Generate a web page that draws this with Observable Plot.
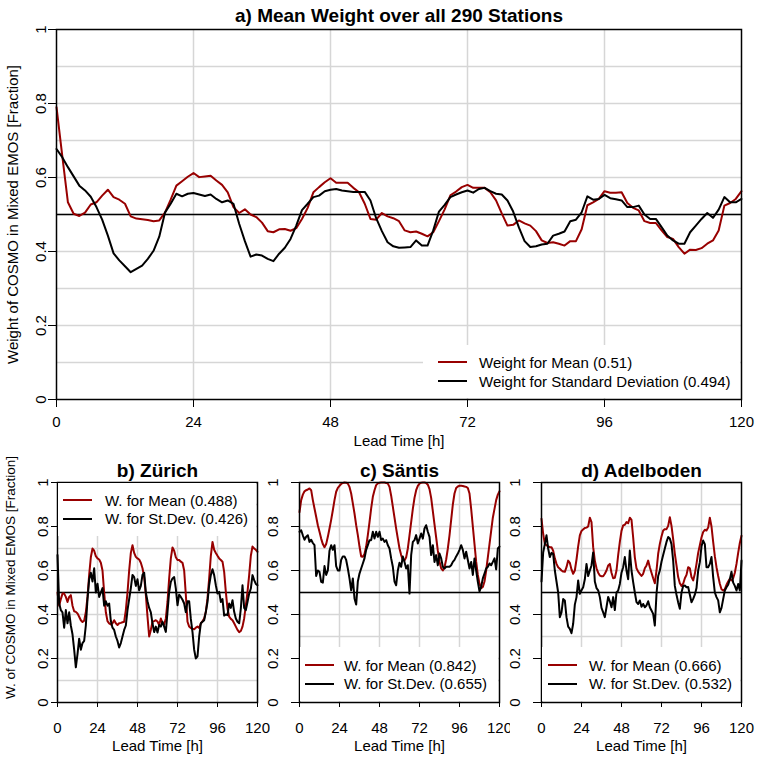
<!DOCTYPE html>
<html><head><meta charset="utf-8">
<script src="https://cdn.jsdelivr.net/npm/d3@7"></script>
<script src="https://cdn.jsdelivr.net/npm/@observablehq/plot@0.6"></script>
<style>
body{margin:0;background:#fff;}
#root{position:relative;width:758px;height:758px;overflow:hidden;font-family:"Liberation Sans",Arial,sans-serif;color:#000;}
.panel{position:absolute;}
.legend{position:absolute;background:#fff;}
.row{position:absolute;height:19px;display:flex;align-items:center;font-size:15px;white-space:nowrap;}
.sw{position:absolute;height:0;border-top:2px solid;}
</style></head><body><div id="root"></div>
<script>
const leadHours = Array.from({length:121},(_,i)=>i);
const xTicks = [0,24,48,72,96,120];
const yTicks = [0,0.2,0.4,0.6,0.8,1];
const yTickLabels = ["0","0.2","0.4","0.6","0.8","1"];
const gridY = [0.1,0.2,0.3,0.4,0.5,0.6,0.7,0.8,0.9];
const gridX = [24,48,72,96];
const xLabel = "Lead Time [h]";
const titles = ["a) Mean Weight over all 290 Stations","b) Zürich","c) Säntis","d) Adelboden"];
const yLabels = ["Weight of COSMO in Mixed EMOS [Fraction]","W. of COSMO in Mixed EMOS [Fraction]"];
const legendA = ["Weight for Mean (0.51)","Weight for Standard Deviation (0.494)"];
const legendB = ["W. for Mean (0.488)","W. for St.Dev. (0.426)"];
const legendC = ["W. for Mean (0.842)","W. for St.Dev. (0.655)"];
const legendD = ["W. for Mean (0.666)","W. for St.Dev. (0.532)"];

const allMean = [0.79,0.66,0.533,0.502,0.496,0.505,0.527,0.533,0.551,0.567,
 0.547,0.54,0.529,0.495,0.489,0.487,0.485,0.482,0.484,0.505,
 0.54,0.578,0.59,0.602,0.612,0.601,0.603,0.605,0.592,0.58,
 0.56,0.52,0.504,0.514,0.5,0.493,0.478,0.455,0.452,0.46,
 0.461,0.456,0.463,0.488,0.518,0.56,0.574,0.587,0.598,0.586,
 0.586,0.586,0.572,0.56,0.529,0.488,0.486,0.504,0.495,0.49,
 0.482,0.457,0.452,0.454,0.448,0.441,0.452,0.482,0.514,0.552,
 0.562,0.574,0.58,0.572,0.572,0.572,0.56,0.538,0.503,0.47,
 0.472,0.484,0.476,0.47,0.455,0.43,0.423,0.425,0.421,0.416,
 0.428,0.428,0.46,0.525,0.533,0.542,0.563,0.559,0.559,0.56,
 0.531,0.518,0.511,0.482,0.477,0.477,0.457,0.439,0.434,0.412,
 0.394,0.405,0.404,0.409,0.421,0.43,0.457,0.524,0.531,0.542,
 0.563];
const allSd = [0.677,0.655,0.628,0.603,0.578,0.565,0.548,0.52,0.486,0.443,
 0.395,0.376,0.36,0.344,0.353,0.362,0.38,0.402,0.44,0.505,
 0.529,0.556,0.549,0.556,0.558,0.554,0.55,0.554,0.542,0.533,
 0.538,0.529,0.475,0.428,0.386,0.392,0.389,0.38,0.374,0.394,
 0.41,0.434,0.47,0.512,0.529,0.547,0.551,0.563,0.567,0.569,
 0.565,0.563,0.561,0.561,0.561,0.538,0.49,0.455,0.425,0.414,
 0.41,0.411,0.412,0.43,0.416,0.416,0.457,0.508,0.526,0.547,
 0.554,0.56,0.565,0.559,0.569,0.572,0.563,0.556,0.554,0.538,
 0.508,0.465,0.428,0.412,0.414,0.419,0.421,0.443,0.448,0.454,
 0.482,0.486,0.506,0.549,0.54,0.542,0.553,0.544,0.541,0.538,
 0.52,0.52,0.524,0.5,0.488,0.488,0.466,0.443,0.43,0.421,
 0.421,0.452,0.47,0.488,0.504,0.491,0.513,0.547,0.533,0.533,
 0.542];
const zurichMean = [0.50,0.44,0.47,0.495,0.495,0.48,0.457,0.48,0.488,0.44,
 0.415,0.412,0.405,0.39,0.374,0.366,0.372,0.41,0.48,0.58,
 0.66,0.70,0.69,0.665,0.655,0.65,0.635,0.6,0.5,0.41,
 0.37,0.36,0.355,0.36,0.374,0.36,0.352,0.36,0.362,0.365,
 0.367,0.42,0.5,0.6,0.68,0.715,0.68,0.662,0.655,0.65,
 0.635,0.61,0.57,0.49,0.39,0.3,0.33,0.367,0.37,0.374,
 0.368,0.352,0.382,0.36,0.355,0.382,0.457,0.564,0.655,0.705,
 0.69,0.66,0.648,0.648,0.64,0.635,0.6,0.49,0.367,0.345,
 0.338,0.335,0.333,0.34,0.345,0.339,0.36,0.37,0.382,0.412,
 0.473,0.564,0.667,0.73,0.694,0.68,0.667,0.655,0.648,0.64,
 0.594,0.503,0.427,0.39,0.38,0.374,0.36,0.345,0.33,0.32,
 0.325,0.345,0.382,0.442,0.503,0.579,0.667,0.709,0.7,0.694,
 0.685];
const zurichSd = [0.67,0.45,0.42,0.41,0.34,0.42,0.36,0.41,0.35,0.31,
 0.24,0.16,0.22,0.29,0.24,0.27,0.28,0.35,0.47,0.56,
 0.59,0.55,0.61,0.5,0.54,0.48,0.5,0.52,0.44,0.46,
 0.44,0.45,0.37,0.34,0.33,0.3,0.28,0.25,0.27,0.3,
 0.33,0.35,0.42,0.47,0.52,0.58,0.57,0.53,0.56,0.51,
 0.53,0.58,0.59,0.5,0.46,0.43,0.41,0.36,0.32,0.345,
 0.318,0.352,0.345,0.367,0.345,0.321,0.412,0.503,0.548,0.564,
 0.57,0.518,0.442,0.49,0.48,0.467,0.45,0.41,0.46,0.46,
 0.38,0.32,0.24,0.2,0.21,0.3,0.36,0.367,0.374,0.412,
 0.457,0.533,0.579,0.606,0.579,0.533,0.495,0.503,0.457,0.47,
 0.395,0.4,0.397,0.45,0.43,0.465,0.412,0.382,0.367,0.36,
 0.427,0.533,0.43,0.42,0.457,0.495,0.518,0.579,0.556,0.539,
 0.533];
const santisMean = [0.865,0.92,0.945,0.96,0.965,0.968,0.973,0.965,0.92,0.882,
 0.844,0.806,0.776,0.745,0.72,0.706,0.72,0.753,0.791,0.83,
 0.874,0.92,0.958,0.976,0.985,0.993,0.998,1.0,0.999,0.995,
 0.98,0.95,0.905,0.859,0.806,0.761,0.709,0.664,0.662,0.675,
 0.709,0.761,0.82,0.882,0.935,0.965,0.988,0.996,0.999,1.0,
 1.0,1.0,0.998,0.995,0.98,0.94,0.89,0.84,0.79,0.745,
 0.7,0.67,0.648,0.645,0.66,0.7,0.76,0.82,0.88,0.93,
 0.965,0.985,0.995,0.999,1.0,1.0,0.998,0.99,0.97,0.93,
 0.87,0.81,0.75,0.69,0.64,0.61,0.6,0.615,0.65,0.7,
 0.76,0.83,0.9,0.95,0.975,0.982,0.985,0.985,0.984,0.982,
 0.98,0.975,0.95,0.88,0.8,0.72,0.64,0.58,0.54,0.52,
 0.525,0.55,0.6,0.66,0.72,0.78,0.84,0.88,0.92,0.945,
 0.96];
const santisSd = [0.776,0.783,0.76,0.74,0.753,0.76,0.73,0.74,0.725,0.715,
 0.575,0.6,0.594,0.548,0.545,0.62,0.58,0.6,0.69,0.715,
 0.694,0.715,0.62,0.6,0.6,0.648,0.664,0.664,0.648,0.609,
 0.564,0.51,0.564,0.473,0.445,0.55,0.586,0.609,0.632,0.655,
 0.694,0.715,0.738,0.738,0.776,0.745,0.776,0.753,0.776,0.738,
 0.745,0.73,0.738,0.715,0.7,0.655,0.617,0.55,0.533,0.6,
 0.635,0.617,0.664,0.639,0.609,0.624,0.495,0.67,0.73,0.738,
 0.761,0.723,0.745,0.768,0.745,0.791,0.806,0.776,0.753,0.67,
 0.715,0.639,0.67,0.624,0.677,0.655,0.617,0.609,0.617,0.617,
 0.617,0.624,0.639,0.648,0.664,0.677,0.694,0.715,0.694,0.655,
 0.685,0.648,0.609,0.639,0.58,0.655,0.6,0.548,0.505,0.526,
 0.564,0.586,0.609,0.617,0.632,0.624,0.639,0.655,0.605,0.7,
 0.709];
const adelbodenMean = [0.835,0.767,0.721,0.715,0.71,0.706,0.706,0.69,0.655,0.63,
 0.615,0.608,0.6,0.595,0.594,0.615,0.645,0.635,0.605,0.585,
 0.6,0.65,0.71,0.76,0.78,0.787,0.793,0.795,0.8,0.84,
 0.82,0.706,0.645,0.61,0.59,0.577,0.574,0.574,0.585,0.6,
 0.623,0.63,0.59,0.565,0.567,0.6,0.67,0.73,0.78,0.805,
 0.808,0.82,0.815,0.84,0.83,0.75,0.66,0.61,0.595,0.585,
 0.575,0.585,0.61,0.623,0.645,0.615,0.59,0.565,0.542,0.6,
 0.676,0.721,0.755,0.782,0.788,0.788,0.803,0.842,0.803,0.743,
 0.676,0.623,0.57,0.542,0.53,0.54,0.565,0.58,0.615,0.61,
 0.57,0.555,0.585,0.63,0.68,0.715,0.75,0.775,0.785,0.782,
 0.795,0.84,0.8,0.73,0.665,0.615,0.575,0.54,0.515,0.509,
 0.515,0.535,0.55,0.562,0.555,0.565,0.59,0.63,0.68,0.725,
 0.758];
const adelbodenSd = [0.55,0.682,0.72,0.76,0.7,0.661,0.68,0.676,0.6,0.55,
 0.5,0.388,0.41,0.47,0.464,0.388,0.345,0.335,0.315,0.358,
 0.445,0.479,0.555,0.494,0.51,0.524,0.56,0.63,0.575,0.6,
 0.623,0.682,0.55,0.52,0.51,0.479,0.43,0.41,0.388,0.433,
 0.48,0.46,0.433,0.479,0.42,0.5,0.509,0.539,0.59,0.615,
 0.661,0.6,0.56,0.691,0.6,0.547,0.5,0.456,0.448,0.464,
 0.435,0.448,0.433,0.441,0.46,0.433,0.418,0.403,0.35,0.494,
 0.575,0.6,0.64,0.67,0.7,0.73,0.752,0.745,0.72,0.645,
 0.53,0.49,0.455,0.426,0.5,0.53,0.532,0.524,0.525,0.49,
 0.456,0.471,0.49,0.52,0.6,0.638,0.71,0.736,0.72,0.615,
 0.615,0.63,0.661,0.57,0.5,0.479,0.464,0.41,0.43,0.47,
 0.509,0.524,0.535,0.56,0.594,0.545,0.53,0.509,0.539,0.509,
 0.645];

const RED = "#980000";
const GRID = "#d6d6d6";
const FONT = "Liberation Sans, Arial, Helvetica, sans-serif";
const root = document.getElementById("root");

function makePanel(c) {
  const meanRows = leadHours.map((h,i)=>({h, w:c.mean[i]}));
  const sdRows = leadHours.map((h,i)=>({h, w:c.sd[i]}));
  const marks = [
      Plot.ruleY(gridY,{stroke:GRID, strokeWidth:1.5}),
      Plot.ruleX(gridX,{stroke:GRID, strokeWidth:1.5}),
      Plot.ruleY([0.5],{stroke:"black", strokeWidth:1.5}),
      Plot.line(meanRows,{x:"h", y:"w", stroke:RED, strokeWidth:2}),
      Plot.line(sdRows,{x:"h", y:"w", stroke:"black", strokeWidth:2}),
      Plot.frame({stroke:"black", strokeWidth:1.5}),
      Plot.axisX({ticks:xTicks, tickSize:c.xTick, tickPadding:c.xPad, tickFormat:d=>String(d), label:null, fontSize:15}),
      Plot.axisY({ticks:yTicks, tickSize:c.yTick, tickFormat:()=>"", label:null}),
      Plot.text(yTicks,{y:d=>d, frameAnchor:"left", dx:c.ytDx, rotate:-90, textAnchor:"middle", lineAnchor:"middle", text:(d,i)=>yTickLabels[i], fontSize:15}),
      Plot.text([xLabel],{frameAnchor:"bottom", dy:c.xlDy, textAnchor:"middle", lineAnchor:"middle", text:d=>d, fontSize:15}),
      Plot.text([c.title],{frameAnchor:"top", dy:c.tDy, textAnchor:"middle", lineAnchor:"middle", text:d=>d, fontSize:19, fontWeight:"bold"})
  ];
  if (c.ylab) marks.push(Plot.text([c.ylab],{frameAnchor:"left", dx:c.ylDx, dy:c.ylDy, rotate:-90, textAnchor:"middle", lineAnchor:"middle", text:d=>d, fontSize:c.ylSize}));
  const svg = Plot.plot({
    width:c.width, height:c.height,
    marginLeft:c.ml, marginRight:c.mr, marginTop:c.mt, marginBottom:c.mb,
    x:{domain:[0,120]}, y:{domain:[0,1]},
    style:{fontFamily:FONT, fontSize:"15px", color:"black", background:"white", overflow:"visible"},
    marks
  });
  const wrap = document.createElement("div");
  wrap.className = "panel";
  wrap.style.left = c.left+"px"; wrap.style.top = c.top+"px";
  wrap.appendChild(svg);
  root.appendChild(wrap);
}

function addLegend(l) {
  const box = document.createElement("div");
  box.className = "legend";
  Object.assign(box.style,{left:l.x+"px", top:l.y+"px", width:l.w+"px", height:l.h+"px"});
  l.labels.forEach((label,i)=>{
    const cy = l.centers[i] - l.y;
    const sw = document.createElement("div");
    sw.className = "sw";
    Object.assign(sw.style,{left:(l.swX-l.x)+"px", width:"29px", top:(cy-1)+"px", borderTopColor: i===0?RED:"black"});
    box.appendChild(sw);
    const row = document.createElement("div");
    row.className = "row";
    Object.assign(row.style,{left:(l.txtX-l.x)+"px", top:(cy-9.5)+"px"});
    row.textContent = label;
    box.appendChild(row);
  });
  root.appendChild(box);
}

makePanel({left:0, top:0, width:758, height:450, ml:56, mr:17, mt:29, mb:51,
  mean:allMean, sd:allSd, title:titles[0], ylab:yLabels[0], ylSize:15, ylDx:-43, ylDy:0,
  xTick:8, xPad:9, yTick:8, ytDx:-15.5, xlDy:42, tDy:-14});
makePanel({left:0, top:450, width:270, height:308, ml:57, mr:13, mt:32, mb:56,
  mean:zurichMean, sd:zurichSd, title:titles[1], ylab:yLabels[1], ylSize:13.5, ylDx:-47, ylDy:-15,
  xTick:5, xPad:15, yTick:6, ytDx:-14, xlDy:43.5, tDy:-12});
makePanel({left:270, top:450, width:240, height:308, ml:29, mr:11, mt:32, mb:56,
  mean:santisMean, sd:santisSd, title:titles[2], ylab:null,
  xTick:5, xPad:15, yTick:8, ytDx:-26, xlDy:43.5, tDy:-12});
makePanel({left:510, top:450, width:248, height:308, ml:31, mr:17, mt:32, mb:56,
  mean:adelbodenMean, sd:adelbodenSd, title:titles[3], ylab:null,
  xTick:5, xPad:15, yTick:8, ytDx:-26, xlDy:43.5, tDy:-12});

addLegend({x:423, y:345, w:317, h:53, centers:[362,381], swX:438, txtX:479, labels:legendA});
addLegend({x:58, y:483, w:198, h:53, centers:[500,518.5], swX:63, txtX:105, labels:legendB});
addLegend({x:300, y:647, w:198, h:54, centers:[665,683.5], swX:305, txtX:344, labels:legendC});
addLegend({x:542, y:647, w:198, h:54, centers:[665,683.5], swX:548, txtX:589, labels:legendD});
</script></body></html>
